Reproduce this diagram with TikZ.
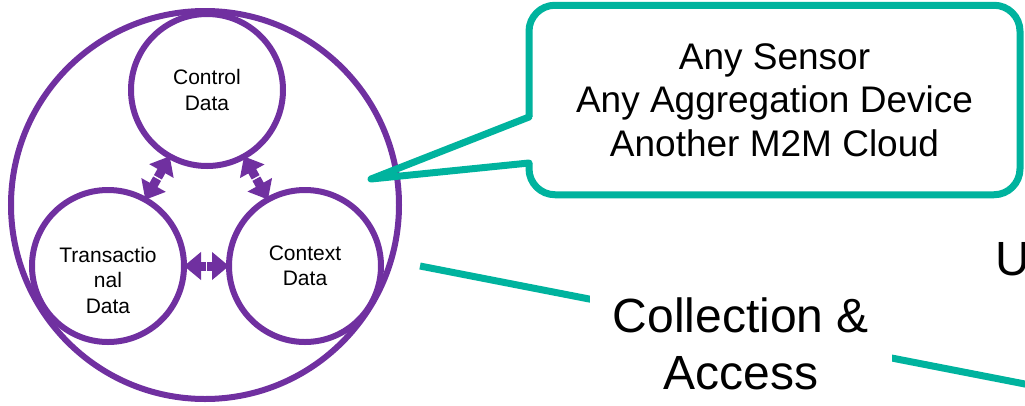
\documentclass[tikz,border=0pt]{standalone}
\usepackage{fontspec}
\setmainfont{Liberation Sans}
\usetikzlibrary{arrows.meta,calc}
\definecolor{mypurple}{HTML}{7030A0}
\definecolor{myteal}{HTML}{00B39E}
\newcommand{\smalltext}{\fontsize{21}{25.5}\selectfont}
\newcommand{\midtext}{\fontsize{37}{43.5}\selectfont}
\newcommand{\bigtext}{\fontsize{48}{57}\selectfont}

\begin{document}
\begin{tikzpicture}[x=1pt, y=-1pt,
    datacircle/.style={circle, draw=mypurple, line width=6pt, minimum size=152pt,
      inner sep=0pt, outer sep=0pt, align=center, font=\smalltext},
    halfarrow/.style={draw=mypurple, line width=9pt,
      -{Triangle[length=17pt, width=27pt]}, shorten <=0.8pt},
    tealline/.style={draw=myteal, line width=7pt}]
    \useasboundingbox (0,0) rectangle (1025,405);

    % hub with the three kinds of data
    \node[circle, draw=mypurple, line width=6pt, minimum size=388pt] (hub) at (205,205) {};
    \node[datacircle] (ctrl) at (207,90) {Control\\Data};
    \node[datacircle] (ctx) at (305,266) {Context\\Data};
    \node[datacircle, label={[font=\smalltext, align=center, yshift=-14pt]center:Transactio\\nal\\Data}] (trans) at (108,266) {};

    \coordinate (m1) at ($(ctrl)!0.5!(trans)$);
    \coordinate (m2) at ($(ctrl)!0.5!(ctx)$);
    \coordinate (m3) at ($(trans)!0.5!(ctx)$);
    \draw[halfarrow] (m1) -- (ctrl);
    \draw[halfarrow] (m1) -- (trans);
    \draw[halfarrow] (m2) -- (ctrl);
    \draw[halfarrow] (m2) -- (ctx);
    \draw[halfarrow] (m3) -- (trans);
    \draw[halfarrow] (m3) -- (ctx);

    % collection & access
    \coordinate (linestart) at (420,266);
    \coordinate (lineend) at (1030,385);
    \draw[tealline] (linestart) -- (lineend);
    \node[fill=white, inner xsep=23pt, inner ysep=8pt, align=center, font=\bigtext] (collect) at (741,344) {Collection \&\\Access};
    \node[anchor=base west, inner sep=0pt, font=\bigtext] (usage) at (995,275) {U};

    % callout with the sources
    \node[draw=myteal, fill=white, line width=7pt, rounded corners=26pt, minimum width=491pt,
      minimum height=189.5pt, outer sep=0pt, align=center, font=\midtext] (sources) at (774.5,100)
      {Any Sensor\\Any Aggregation Device\\Another M2M Cloud};
    \coordinate (tip) at (371,179);
    \coordinate (pu) at ([yshift=-17pt]sources.west);
    \coordinate (pl) at ([yshift=-63pt]sources.west);
    \fill[white] ([xshift=-4.5pt]pu) rectangle ([xshift=4.5pt]pl);
    \draw[tealline, line join=round, line cap=round] (pu) -- (tip) -- (pl);
\end{tikzpicture}
\end{document}
